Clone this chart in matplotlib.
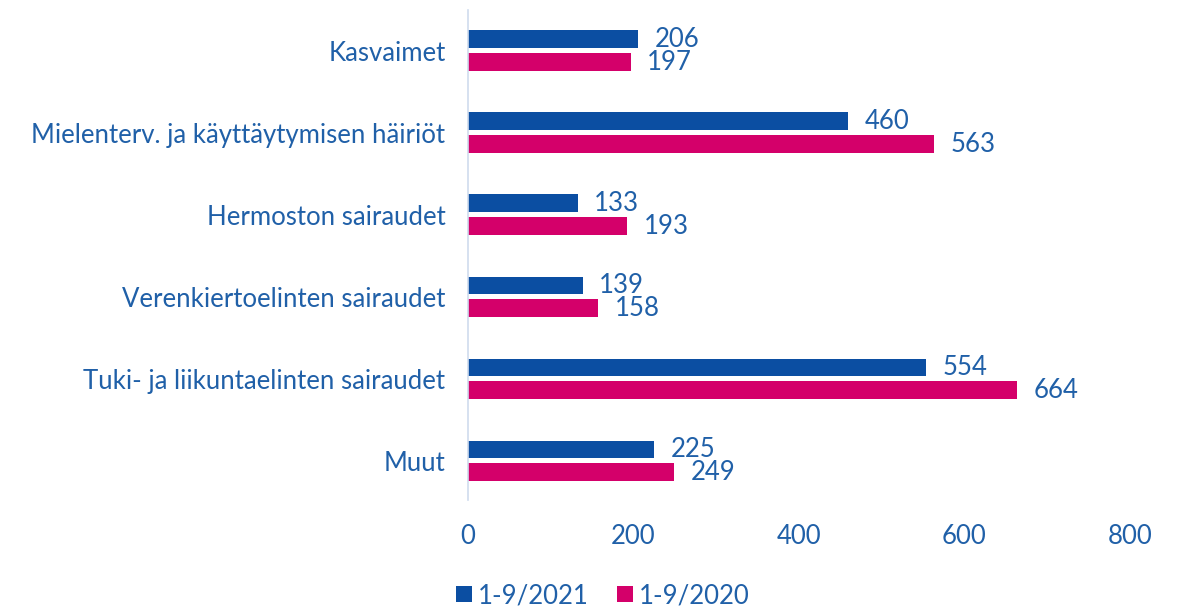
import matplotlib.pyplot as plt
import numpy as np

categories = ['Kasvaimet', 'Mielenterv. ja käyttäytymisen häiriöt', 'Hermoston sairaudet',
              'Verenkiertoelinten sairaudet', 'Tuki- ja liikuntaelinten sairaudet', 'Muut']
vals_2021 = [206, 460, 133, 139, 554, 225]
vals_2020 = [197, 563, 193, 158, 664, 249]
labels = ['1-9/2021', '1-9/2020']

blue = '#0b4ea2'
pink = '#d4006a'
txt = '#2060a8'

plt.rcParams['font.family'] = ['Lato', 'DejaVu Sans']
fs = 18.5

fig = plt.figure(figsize=(11.78, 6.10), dpi=100)
ax = fig.add_axes([0.397, 0.18, 0.562, 0.804])

y = np.arange(len(categories))
h = 0.215
off = 0.14
b1 = ax.barh(y - off, vals_2021, height=h, color=blue, label=labels[0])
b2 = ax.barh(y + off, vals_2020, height=h, color=pink, label=labels[1])

for bars, vals in ((b1, vals_2021), (b2, vals_2020)):
    for bar, v in zip(bars, vals):
        ax.text(v + 20, bar.get_y() + bar.get_height() / 2, str(v),
                va='center', ha='left', fontsize=fs, color=txt)

ax.set_xlim(0, 800)
ax.set_ylim(5.48, -0.5)
ax.set_xticks([0, 200, 400, 600, 800])
ax.set_yticks(y)
ax.set_yticklabels(categories)
ax.tick_params(axis='both', length=0, labelsize=fs, labelcolor=txt)
ax.tick_params(axis='x', pad=17)
ax.tick_params(axis='y', pad=16)
for s in ['top', 'right', 'bottom']:
    ax.spines[s].set_visible(False)
ax.spines['left'].set_color('#cfdcee')
ax.spines['left'].set_linewidth(1.2)

leg = fig.legend(handles=[b1, b2], loc='lower center', bbox_to_anchor=(0.512, -0.035),
                 ncol=2, frameon=False, fontsize=fs, handlelength=0.6, handleheight=0.6,
                 handletextpad=0.25, columnspacing=1.1)
for t in leg.get_texts():
    t.set_color(txt)

fig.savefig('out.png', dpi=100)
